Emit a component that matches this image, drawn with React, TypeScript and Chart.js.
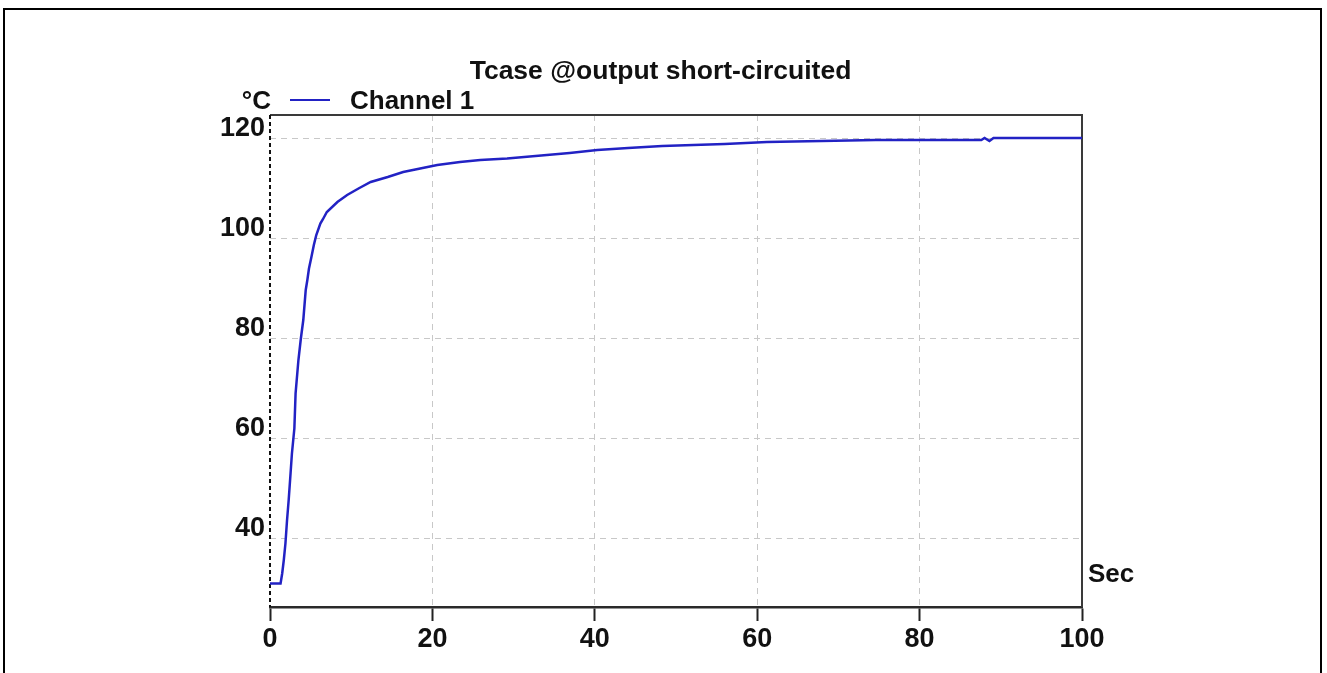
import React, { useEffect, useRef } from 'react';
import { Chart, registerables } from 'chart.js';

Chart.register(...registerables);

// ---- data ----
const timeSec = [
  0, 1.3, 1.5, 1.7, 1.9, 2.1, 2.3, 2.5, 2.7, 3.0, 3.15, 3.5, 3.8, 4.1, 4.4, 4.6, 4.8,
  5.1, 5.4, 5.7, 6.2, 6.5, 7.0, 8.3, 9.5, 10.9, 12.4, 14.5, 16.4, 18.5, 20.6, 23.4,
  25.9, 29.2, 34.1, 36.9, 40.3, 44.1, 48.3, 56.0, 61.2, 74.6, 87.6, 88.0, 88.6, 89.1, 100,
];
const tempC = [
  31, 31, 33, 35.7, 39, 43.7, 47.7, 52.3, 57, 62, 69, 75.7, 80, 83.7, 89.7, 91.7, 94,
  96.3, 98.7, 100.7, 103, 103.8, 105.3, 107.3, 108.7, 110, 111.3, 112.3, 113.3, 114, 114.7, 115.3,
  115.7, 116, 116.7, 117.1, 117.7, 118.1, 118.5, 118.9, 119.3, 119.7, 119.7, 120.1, 119.5, 120.1, 120.1,
];
const xTickValues = [0, 20, 40, 60, 80, 100];
const yTickValues = [40, 60, 80, 100, 120];
const titleText = 'Tcase @output short-circuited';
const seriesName = 'Channel 1';
const yUnit = '°C';
const xUnit = 'Sec';

const FONT = "'Liberation Sans', Arial, sans-serif";
const W = 1327;
const H = 673;
const LINE_COLOR = '#2222c4';
const TEXT_COLOR = '#111111';

const decoPlugin = {
  id: 'deco',
  beforeDraw(chart: any) {
    const ctx = chart.ctx;
    ctx.save();
    ctx.fillStyle = '#ffffff';
    ctx.fillRect(0, 0, chart.width, chart.height);
    ctx.strokeStyle = '#000000';
    ctx.lineWidth = 2;
    ctx.strokeRect(4, 9, 1317, 720);
    ctx.restore();
  },
  beforeDatasetsDraw(chart: any) {
    const ctx = chart.ctx;
    const { left, right, top, bottom } = chart.chartArea;
    ctx.save();
    ctx.strokeStyle = '#3a3a3a';
    ctx.lineWidth = 2;
    ctx.beginPath();
    ctx.moveTo(left, top);
    ctx.lineTo(right, top);
    ctx.lineTo(right, bottom);
    ctx.stroke();
    ctx.strokeStyle = '#111111';
    ctx.setLineDash([4, 3]);
    ctx.beginPath();
    ctx.moveTo(left, top);
    ctx.lineTo(left, bottom);
    ctx.stroke();
    ctx.restore();
  },
  afterDraw(chart: any) {
    const ctx = chart.ctx;
    const { left, right, bottom } = chart.chartArea;
    ctx.save();
    ctx.fillStyle = TEXT_COLOR;
    ctx.textBaseline = 'middle';
    // title
    ctx.font = `bold 26.5px ${FONT}`;
    ctx.textAlign = 'center';
    ctx.fillText(titleText, 660.5, 72);
    ctx.font = `bold 26px ${FONT}`;
    // y unit
    ctx.textAlign = 'right';
    ctx.fillText(yUnit, left + 1, 102);
    // legend
    ctx.strokeStyle = LINE_COLOR;
    ctx.lineWidth = 2;
    ctx.beginPath();
    ctx.moveTo(left + 20, 100);
    ctx.lineTo(left + 60, 100);
    ctx.stroke();
    ctx.textAlign = 'left';
    ctx.fillText(seriesName, left + 80, 102);
    // x unit
    ctx.fillText(xUnit, right + 6, bottom - 32);
    ctx.restore();
  },
};

export default function App() {
  const canvasRef = useRef<HTMLCanvasElement | null>(null);

  useEffect(() => {
    const canvas = canvasRef.current;
    if (!canvas) return;
    const points = timeSec.map((t, i) => ({ x: t, y: tempC[i] }));
    const chart = new Chart(canvas, {
      type: 'line',
      data: {
        datasets: [
          {
            label: seriesName,
            data: points,
            borderColor: LINE_COLOR,
            backgroundColor: LINE_COLOR,
            borderWidth: 2.5,
            pointRadius: 0,
            tension: 0,
            fill: false,
          },
        ],
      },
      options: {
        responsive: false,
        animation: false,
        layout: { padding: { left: 0, right: 245, top: 115, bottom: 0 } },
        plugins: {
          legend: { display: false },
          tooltip: { enabled: false },
          title: { display: false },
        },
        scales: {
          x: {
            type: 'linear',
            min: 0,
            max: 100,
            afterFit: (scale: any) => {
              scale.height = 66;
            },
            afterBuildTicks: (scale: any) => {
              scale.ticks = xTickValues.map((v) => ({ value: v }));
            },
            ticks: {
              color: TEXT_COLOR,
              font: { family: FONT, size: 27, weight: 'bold' },
              padding: 2,
              maxRotation: 0,
              autoSkip: false,
            },
            grid: {
              color: (c: any) =>
                c.tick && (c.tick.value === 0 || c.tick.value === 100) ? 'rgba(0,0,0,0)' : '#c8c8c8',
              lineWidth: 1,
              drawTicks: true,
              tickLength: 14,
              tickWidth: 2,
              tickColor: '#222222',
            },
            border: { display: true, color: '#2a2a2a', width: 2.5, dash: [6, 5] },
          },
          y: {
            type: 'linear',
            min: 26.3,
            max: 124.7,
            afterFit: (scale: any) => {
              scale.width = 270;
            },
            afterBuildTicks: (scale: any) => {
              scale.ticks = yTickValues.map((v) => ({ value: v }));
            },
            ticks: {
              color: TEXT_COLOR,
              font: { family: FONT, size: 27, weight: 'bold', lineHeight: 0.72 },
              padding: 5,
              autoSkip: false,
              callback: (v: any) => [String(v), ''],
            },
            grid: {
              color: '#c8c8c8',
              lineWidth: 1,
              drawTicks: false,
            },
            border: { display: false, dash: [6, 5] },
          },
        },
      },
      plugins: [decoPlugin],
    } as any);
    return () => {
      chart.destroy();
    };
  }, []);

  return (
    <div style={{ position: 'absolute', left: 0, top: 0, width: W, height: H, background: '#fff' }}>
      <canvas ref={canvasRef} width={W} height={H} style={{ display: 'block' }} />
    </div>
  );
}
